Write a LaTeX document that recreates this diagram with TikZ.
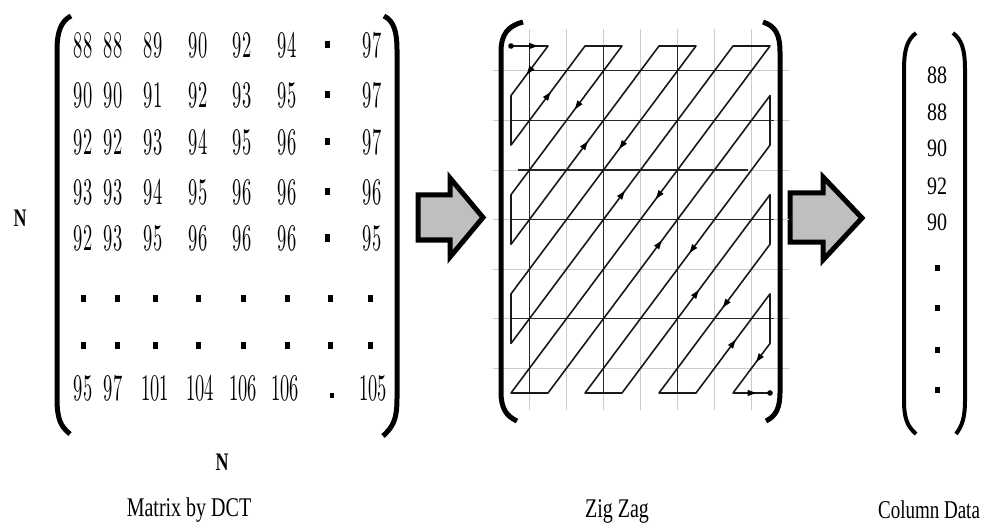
\documentclass[tikz,border=0pt]{standalone}
\usepackage{fontspec}
\newfontfamily\tms{Liberation Serif}
\usetikzlibrary{decorations.markings,arrows.meta}
\newcommand\mnum[1]{\scalebox{1.85}[3.75]{\fontsize{10}{12}\selectfont #1}}
\newcommand\cnum[1]{\scalebox{1}[1.25]{\tms\fontsize{20}{22}\selectfont #1}}
\newcommand\lbl[1]{\scalebox{1}[1.35]{\tms\fontsize{20}{22}\selectfont #1}}
\newcommand\nlbl{\scalebox{1}[1.4]{\tms\bfseries\fontsize{18}{20}\selectfont N}}
\begin{document}
\begin{tikzpicture}[x=1pt,y=-1pt,
  txt/.style={inner sep=0pt, anchor=center},
  sqr/.style={fill=black, inner sep=0pt, minimum width=5pt, minimum height=7pt},
  csq/.style={fill=black, inner sep=0pt, minimum width=5pt, minimum height=6pt},
  brk/.style={line width=5pt, line cap=butt},
  cbrk/.style={line width=4pt, line cap=butt},
  bigarrow/.style={draw=black, line width=5pt, fill=black!25, line join=miter},
  gridl/.style={black!20, line width=0.8pt},
  gridd/.style={black!85, line width=1.3pt},
  zz/.style={black!90, line width=1.6pt, line join=round},
  midarrow/.style={postaction={decorate}, decoration={markings,
      mark=at position #1 with {\fill[black] (4.5pt,0pt) -- (-4pt,3.2pt) -- (-4pt,-3.2pt) -- cycle;}}},
  midarrow/.default=0.5]
\useasboundingbox (0,0) rectangle (984,529);
\fill[white] (0,0) rectangle (984,529);

% ---------- Matrix by DCT ----------
\foreach \r/\y/\vals in {1/45/{88,88,89,90,92,94},
                         2/95/{90,90,91,92,93,95},
                         3/142/{92,92,93,94,95,96},
                         4/192/{93,93,94,95,96,96},
                         5/238/{92,93,95,96,96,96}}{
  \foreach \v [count=\c] in \vals {
    \pgfmathsetmacro\xx{{83,113,153,198,242,287}[\c-1]}
    \node[txt] (m-\r-\c) at (\xx,\y) {\mnum{\v}};
  }
  \node[sqr] (m-\r-7) at (327,\y) {};
}
\node[txt] (m-1-8) at (372,45) {\mnum{97}};
\node[txt] (m-2-8) at (372,95) {\mnum{97}};
\node[txt] (m-3-8) at (372,142) {\mnum{97}};
\node[txt] (m-4-8) at (372,192) {\mnum{96}};
\node[txt] (m-5-8) at (372,238) {\mnum{95}};
\foreach \r/\y in {6/298,7/345}{
  \foreach \xx [count=\c] in {83,117,155,198,243,287,330,370}{
    \node[sqr] (m-\r-\c) at (\xx,\y) {};
  }
}
\node[txt] (m-8-1) at (83,388) {\mnum{95}};
\node[txt] (m-8-2) at (113,388) {\mnum{97}};
\node[txt] (m-8-3) at (155,388) {\mnum{101}};
\node[txt] (m-8-4) at (200,388) {\mnum{104}};
\node[txt] (m-8-5) at (243,388) {\mnum{106}};
\node[txt] (m-8-6) at (285,388) {\mnum{106}};
\node[fill=black, inner sep=0pt, minimum width=4pt, minimum height=5pt] (m-8-7) at (332,395) {};
\node[txt] (m-8-8) at (373,388) {\mnum{105}};

\draw[brk] (71,16) .. controls (61,21) and (57,32) .. (57,50) -- (57,398)
  .. controls (57,418) and (60,426) .. (70,434);
\draw[brk] (384,16) .. controls (394,21) and (397,32) .. (397,50) -- (397,398)
  .. controls (397,418) and (394,426) .. (383,436);

\node[txt] (nleft) at (20,218) {\nlbl};
\node[txt] (nbottom) at (222,462) {\nlbl};
\node[txt] (lblm) at (189,510) {\lbl{Matrix by DCT}};

% ---------- arrows ----------
\draw[bigarrow] (418,195) -- (450,195) -- (450,178) -- (483,217.5) -- (450,257)
  -- (450,240) -- (418,240) -- cycle;
\draw[bigarrow] (790,193) -- (823,193) -- (823,177) -- (862,218) -- (823,260)
  -- (823,242) -- (790,242) -- cycle;

% ---------- Zig Zag ----------
\begin{scope}[shift={(511,46)}, x=37pt, y=-49.57pt]
  \foreach \i in {0.5,1.5,...,6.5}{
    \draw[gridl] (\i,-0.35) -- (\i,7.35);
    \draw[gridl] (-0.5,\i) -- (7.5,\i);
  }
  \foreach \i in {0.5,2.5,4.5}{
    \draw[gridd] (\i,0) -- (\i,7);
  }
  \draw[gridd] (0.5,0.5) -- (6.5,0.5);
  \draw[gridd] (0,1.5) -- (7.1,1.5);
  \draw[gridd] (0.2,2.5) -- (6.4,2.5);
  \draw[gridd] (0,3.5) -- (7.1,3.5);
  \draw[gridd] (0,5.5) -- (7.1,5.5);

  \draw[zz] (0,0) -- (1,0) -- (0,1) -- (0,2) -- (2,0) -- (3,0) -- (0,3) -- (0,4)
    -- (4,0) -- (5,0) -- (0,5) -- (0,6) -- (6,0) -- (7,0) -- (0,7) -- (1,7)
    -- (7,1) -- (7,2) -- (2,7) -- (3,7) -- (7,3) -- (7,4) -- (4,7) -- (5,7)
    -- (7,5) -- (7,6) -- (6,7) -- (7,7);
  \foreach \a/\b/\c/\d/\p in {1/0/0/1/0.5, 0/2/2/0/0.5, 3/0/0/3/0.4, 0/4/4/0/0.5,
      5/0/0/5/0.4, 0/6/6/0/0.5, 7/0/0/7/0.43, 1/7/7/1/0.5, 7/2/2/7/0.42,
      3/7/7/3/0.5, 7/4/4/7/0.4, 5/7/7/5/0.5, 7/6/6/7/0.3}{
    \path[midarrow=\p] (\a,\b) -- (\c,\d);
  }
  \path[midarrow=0.6] (0,0) -- (1,0);
  \path[midarrow=0.5] (6,7) -- (7,7);
  \fill (0,0) circle[radius=2.8pt];
  \fill (7,7) circle[radius=2.8pt];
\end{scope}

\draw[brk] (523,22) .. controls (508,26) and (501,34) .. (501,52) -- (501,392)
  .. controls (501,408) and (506,416) .. (517,421);
\draw[brk] (763,22) .. controls (775,26) and (780,34) .. (780,52) -- (780,392)
  .. controls (780,408) and (776,416) .. (766,421);
\node[txt] (lblz) at (617,511) {\lbl{Zig Zag}};

% ---------- Column Data ----------
\node[txt] (c1) at (937,75) {\cnum{88}};
\node[txt] (c2) at (937,112) {\cnum{88}};
\node[txt] (c3) at (937,148) {\cnum{90}};
\node[txt] (c4) at (937,186) {\cnum{92}};
\node[txt] (c5) at (937,222) {\cnum{90}};
\node[csq] (c6) at (937,268) {};
\node[csq] (c7) at (937,308) {};
\node[csq] (c8) at (937,350) {};
\node[csq] (c9) at (937,390) {};
\draw[cbrk] (916,33) .. controls (907,40) and (904,50) .. (904,70) -- (904,400)
  .. controls (904,418) and (907,426) .. (916,434);
\draw[cbrk] (953,33) .. controls (962,40) and (965,50) .. (965,70) -- (965,400)
  .. controls (965,418) and (962,426) .. (956,434);
\node[txt] (lblc) at (929,510) {\scalebox{1}[1.35]{\tms\fontsize{19}{21}\selectfont Column Data}};
\end{tikzpicture}
\end{document}
